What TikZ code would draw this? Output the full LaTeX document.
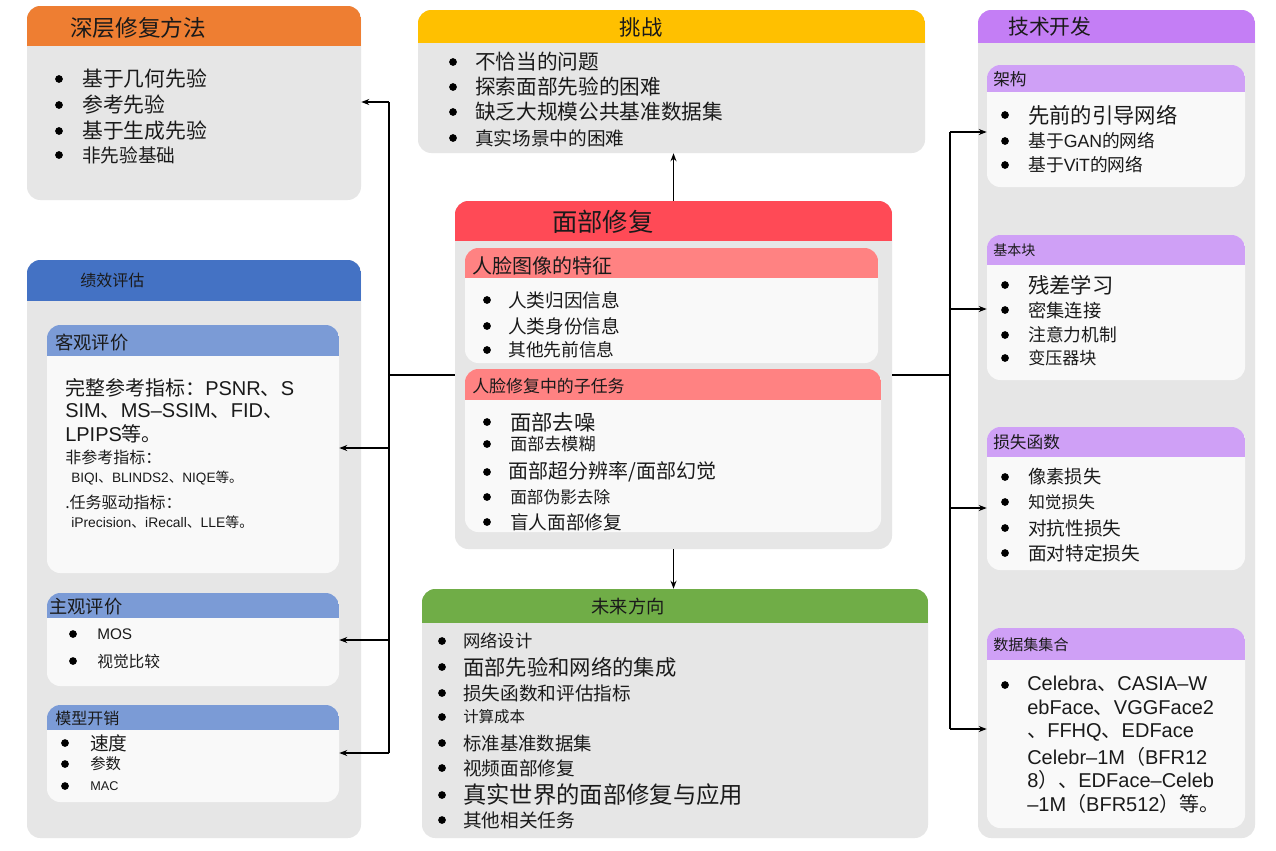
\documentclass[tikz,border=0pt]{standalone}
\usepackage{fontspec}
\setmainfont{Noto Sans CJK SC}
\newfontfamily\lat{Liberation Sans}
\usetikzlibrary{fit,arrows.meta}
\definecolor{bodygray}{HTML}{E6E6E6}
\definecolor{innerw}{HTML}{F9F9F9}
\definecolor{orangeH}{HTML}{EE7E32}
\definecolor{yellowH}{HTML}{FFC000}
\definecolor{redH}{HTML}{FF4A56}
\definecolor{pinkH}{HTML}{FF8282}
\definecolor{blueH}{HTML}{4472C4}
\definecolor{lblueH}{HTML}{7B9BD6}
\definecolor{greenH}{HTML}{70AD47}
\definecolor{purpH}{HTML}{C47EF5}
\definecolor{lpurpH}{HTML}{CFA0F6}
\definecolor{textc}{HTML}{1A1A1A}
\newcommand\fs[1]{\fontsize{#1pt}{#1pt}\selectfont}
\tikzset{
  panel/.style n args={3}{inner sep=0pt, fill=#3, draw=none, rounded corners=10pt,
    path picture={\fill[#1, sharp corners] (path picture bounding box.north west) rectangle ([yshift=-#2]path picture bounding box.north east);}},
  txt/.style={anchor=west, inner sep=0pt, text=textc},
  conn/.style={line width=1.4pt, draw=black},
  arr/.style={conn, -{Stealth[length=6pt,width=4.5pt]}}
}
% name, bullet x, text x, y, size, text
\newcommand\itm[6]{%
  \fill[black] (#2,#4) circle (2.9pt);
  \node[txt, font=\fs{#5}] (#1) at (#3,#4) {#6};}
\begin{document}
\begin{tikzpicture}[x=0.75pt,y=-0.75pt]
\fill[white] (0,0) rectangle (1276,850);
\useasboundingbox (0,0) rectangle (1276,850);

% ---------- 深层修复方法 ----------
\node[panel={orangeH}{30pt}{bodygray}, fit={(27,6)(361,200)}] (deep) {};
\node[txt, font=\fs{17}] (deepT) at (70,28) {深层修复方法};
\itm{d1}{59}{82}{79}{15.6}{基于几何先验}
\itm{d2}{59}{82}{105}{15.6}{参考先验}
\itm{d3}{59}{82}{131}{15.6}{基于生成先验}
\itm{d4}{59}{82}{155}{14}{非先验基础}

% ---------- 挑战 ----------
\node[panel={yellowH}{24.75pt}{bodygray}, fit={(418,10)(925,153)}] (chal) {};
\node[txt, anchor=center, font=\fs{16}] (chalT) at (641,27) {挑战};
\itm{c1}{453}{475}{62}{15.5}{不恰当的问题}
\itm{c2}{453}{475}{87}{15.5}{探索面部先验的困难}
\itm{c3}{453}{475}{112}{15.5}{缺乏大规模公共基准数据集}
\itm{c4}{453}{475}{138}{14}{真实场景中的困难}

% ---------- 面部修复 ----------
\node[panel={redH}{30pt}{bodygray}, fit={(455,201)(892,549)}] (center) {};
\node[txt, font=\fs{19}] (centerT) at (552,222) {面部修复};
\node[panel={pinkH}{22.5pt}{innerw}, fit={(465,248)(878,363)}] (feat) {};
\node[txt, font=\fs{15}] (featT) at (472,266) {人脸图像的特征};
\itm{f1}{487}{508}{300}{14}{人类归因信息}
\itm{f2}{487}{508}{326}{14}{人类身份信息}
\itm{f3}{487}{508}{350}{13.3}{其他先前信息}
\node[panel={pinkH}{23.25pt}{innerw}, fit={(465,369)(881,532)}] (sub) {};
\node[txt, font=\fs{12.7}] (subT) at (472,386) {人脸修复中的子任务};
\itm{s1}{487}{510}{422}{16}{面部去噪}
\itm{s2}{487}{510}{444}{12.8}{面部去模糊}
\itm{s3}{487}{508}{472}{15}{面部超分辨率/面部幻觉}
\itm{s4}{487}{510}{497}{12.5}{面部伪影去除}
\itm{s5}{487}{510}{522}{14}{盲人面部修复}

% ---------- 未来方向 ----------
\node[panel={greenH}{25.5pt}{bodygray}, fit={(422,589)(928,838)}] (future) {};
\node[txt, anchor=center, font=\fs{13.7}] (futureT) at (628,607) {未来方向};
\itm{u1}{442}{463}{641}{13}{网络设计}
\itm{u2}{442}{463}{667}{16}{面部先验和网络的集成}
\itm{u3}{442}{463}{693}{14}{损失函数和评估指标}
\itm{u4}{442}{463}{717}{11.6}{计算成本}
\itm{u5}{442}{463}{743}{13.8}{标准基准数据集}
\itm{u6}{442}{463}{768}{14}{视频面部修复}
\itm{u7}{442}{463}{795}{17.5}{真实世界的面部修复与应用}
\itm{u8}{442}{463}{820}{14}{其他相关任务}

% ---------- 绩效评估 ----------
\node[panel={blueH}{30.75pt}{bodygray}, fit={(27,260)(361,838)}] (perf) {};
\node[txt, font=\fs{12}] (perfT) at (80,280) {绩效评估};
\node[panel={lblueH}{23.25pt}{innerw}, fit={(47,325)(339,573)}] (obj) {};
\node[txt, font=\fs{13.7}] (objT) at (55,343) {客观评价};
\node[txt, font=\fs{15}] (o1) at (65,388) {完整参考指标：{\lat PSNR}、{\lat S}};
\node[txt, font=\fs{15}] (o2) at (65,411) {{\lat SIM}、{\lat MS–SSIM}、{\lat FID}、};
\node[txt, font=\fs{15}] (o3) at (65,434) {{\lat LPIPS}等。};
\node[txt, font=\fs{12}] (o4) at (65,457) {非参考指标：};
\node[txt, font=\fs{10.2}] (o5) at (71,478) {{\lat BIQI}、{\lat BLINDS2}、{\lat NIQE}等。};
\node[txt, font=\fs{12}] (o6) at (65,502) {.任务驱动指标：};
\node[txt, font=\fs{10.4}] (o7) at (71,522) {{\lat iPrecision}、{\lat iRecall}、{\lat LLE}等。};
\node[panel={lblueH}{18.75pt}{innerw}, fit={(47,593)(339,686)}] (subj) {};
\node[txt, font=\fs{13.7}] (subjT) at (49,607) {主观评价};
\itm{j1}{73}{97}{634}{11.5}{\lat MOS}
\itm{j2}{73}{97}{661}{11.8}{视觉比较}
\node[panel={lblueH}{18.75pt}{innerw}, fit={(47,705)(339,802)}] (cost) {};
\node[txt, font=\fs{12}] (costT) at (55,718) {模型开销};
\itm{k1}{65}{90}{743}{14}{速度}
\itm{k2}{65}{90}{764}{11.5}{参数}
\itm{k3}{65}{90}{786}{9.5}{\lat MAC}

% ---------- 技术开发 ----------
\node[panel={purpH}{24.75pt}{bodygray}, fit={(978,10)(1255,838)}] (tech) {};
\node[txt, font=\fs{15.6}] (techT) at (1008,27) {技术开发};
\node[panel={lpurpH}{20.25pt}{innerw}, fit={(987,65)(1245,187)}] (arch) {};
\node[txt, font=\fs{12.5}] (archT) at (993,79) {架构};
\itm{a1}{1005}{1028}{115}{16}{先前的引导网络}
\itm{a2}{1005}{1028}{141}{13.3}{基于{\lat GAN}的网络}
\itm{a3}{1005}{1028}{165}{13.3}{基于{\lat ViT}的网络}
\node[panel={lpurpH}{22.5pt}{innerw}, fit={(987,235)(1245,380)}] (basic) {};
\node[txt, font=\fs{10.5}] (basicT) at (993,250) {基本块};
\itm{b1}{1005}{1028}{285}{16}{残差学习}
\itm{b2}{1005}{1028}{310}{13.7}{密集连接}
\itm{b3}{1005}{1028}{335}{13.3}{注意力机制}
\itm{b4}{1005}{1028}{358}{12.8}{变压器块}
\node[panel={lpurpH}{22.5pt}{innerw}, fit={(987,427)(1245,570)}] (loss) {};
\node[txt, font=\fs{12.5}] (lossT) at (993,442) {损失函数};
\itm{l1}{1005}{1028}{477}{13.7}{像素损失}
\itm{l2}{1005}{1028}{502}{12.5}{知觉损失}
\itm{l3}{1005}{1028}{528}{14}{对抗性损失}
\itm{l4}{1005}{1028}{553}{14}{面对特定损失}
\node[panel={lpurpH}{24pt}{innerw}, fit={(987,628)(1245,828)}] (data) {};
\node[txt, font=\fs{11.3}] (dataT) at (993,645) {数据集集合};
\fill[black] (1005,685) circle (2.9pt);
\node[txt, font=\fs{15}] (e1) at (1027,684) {{\lat Celebra}、{\lat CASIA–W}};
\node[txt, font=\fs{15}] (e2) at (1027,708) {{\lat ebFace}、{\lat VGGFace2}};
\node[txt, font=\fs{15}] (e3) at (1027,732) {、{\lat FFHQ}、{\lat EDFace}};
\node[txt, font=\fs{15}] (e4) at (1027,757) {{\lat Celebr–1M}（{\lat BFR12}};
\node[txt, font=\fs{15}] (e5) at (1027,780) {{\lat 8}）、{\lat EDFace–Celeb}};
\node[txt, font=\fs{15}] (e6) at (1027,804) {{\lat –1M}（{\lat BFR512}）等。};

% ---------- connectors ----------
\coordinate (lj) at (389,375);
\coordinate (ltop) at (389,102);
\coordinate (lo) at (389,448);
\coordinate (ls) at (389,640);
\coordinate (lbot) at (389,753);
\draw[conn] (center.west) -- (lj);
\draw[conn] (ltop) -- (lbot);
\draw[arr] (ltop) -- (deep.east |- ltop);
\draw[arr] (lo) -- (obj.east |- lo);
\draw[arr] (ls) -- (subj.east |- ls);
\draw[arr] (lbot) -- (cost.east |- lbot);

\coordinate (rj) at (950,375);
\coordinate (rtop) at (950,132);
\coordinate (rb) at (950,309);
\coordinate (rl) at (950,508);
\coordinate (rbot) at (950,729);
\draw[conn] (center.east) -- (rj);
\draw[conn] (rtop) -- (rbot);
\draw[arr] (rtop) -- (arch.west |- rtop);
\draw[arr] (rb) -- (basic.west |- rb);
\draw[arr] (rl) -- (loss.west |- rl);
\draw[arr] (rbot) -- (data.west |- rbot);

\draw[arr] (center.north) -- (center.north |- chal.south);
\draw[arr] (center.south) -- (center.south |- future.north);
\end{tikzpicture}
\end{document}
